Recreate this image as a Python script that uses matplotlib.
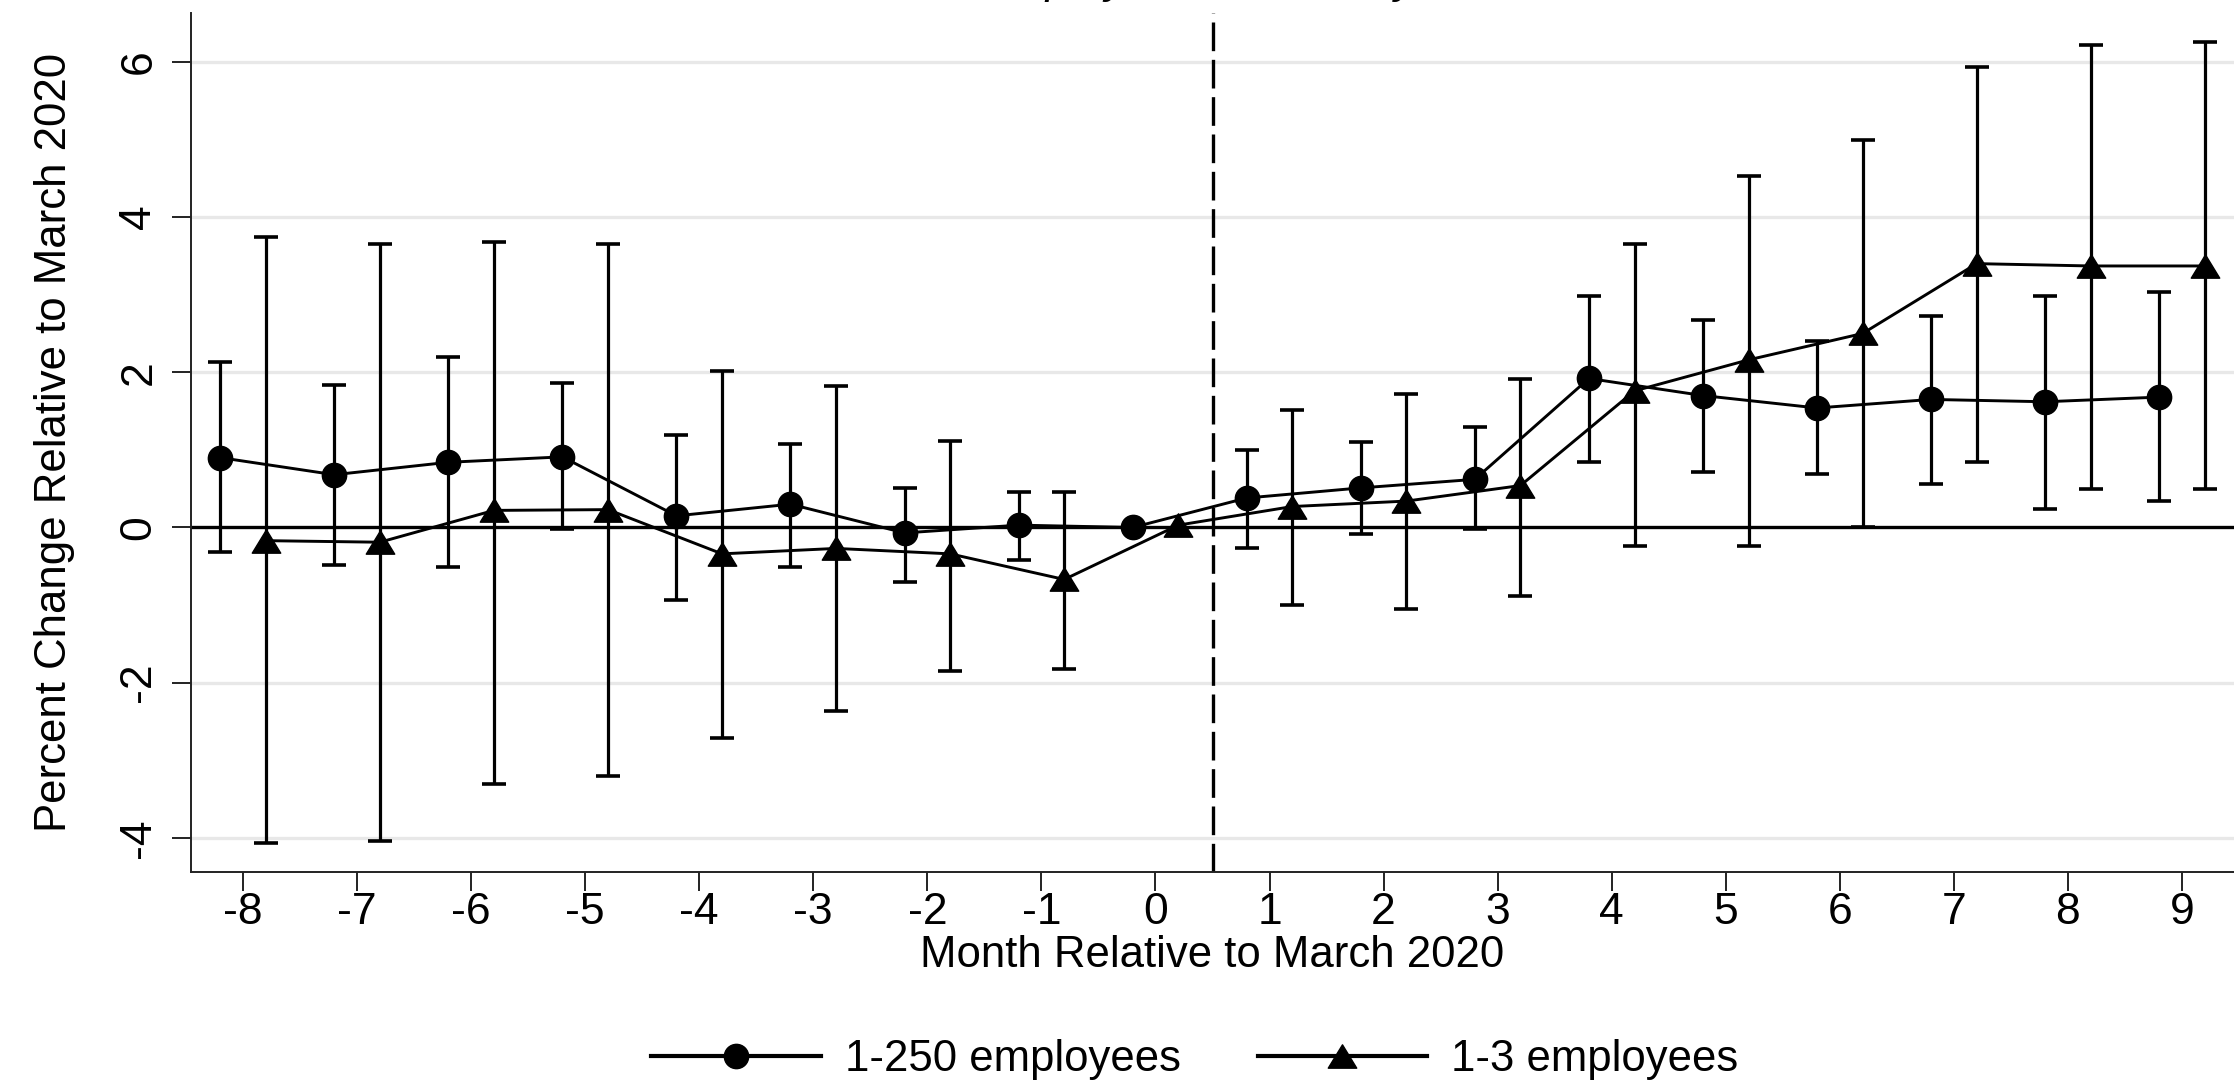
import numpy as np
import matplotlib
matplotlib.use("Agg")
import matplotlib.pyplot as plt
from matplotlib.path import Path

plt.rcParams['font.family'] = ['Liberation Sans', 'DejaVu Sans']
plt.rcParams['axes.unicode_minus'] = False

# months relative to March 2020
months = np.arange(-8, 10)

# 1-250 employees (circles)
est_250 = [0.90, 0.68, 0.84, 0.91, 0.15, 0.30, -0.07, 0.03, 0.00, 0.38, 0.51, 0.62,
           1.92, 1.70, 1.54, 1.65, 1.62, 1.68]
lo_250 = [-0.32, -0.48, -0.51, -0.02, -0.94, -0.51, -0.70, -0.42, np.nan, -0.26, -0.08, -0.02,
          0.84, 0.71, 0.69, 0.56, 0.24, 0.34]
hi_250 = [2.13, 1.83, 2.20, 1.86, 1.19, 1.08, 0.51, 0.46, np.nan, 1.00, 1.10, 1.29,
          2.98, 2.67, 2.40, 2.72, 2.98, 3.03]

# 1-3 employees (triangles)
est_3 = [-0.17, -0.19, 0.22, 0.23, -0.34, -0.27, -0.34, -0.67, 0.03, 0.27, 0.34, 0.54,
         1.76, 2.16, 2.50, 3.40, 3.37, 3.37]
lo_3 = [-4.06, -4.04, -3.30, -3.20, -2.71, -2.36, -1.85, -1.82, np.nan, -1.00, -1.05, -0.88,
        -0.24, -0.24, 0.01, 0.84, 0.49, 0.49]
hi_3 = [3.74, 3.65, 3.68, 3.65, 2.01, 1.82, 1.11, 0.46, np.nan, 1.52, 1.72, 1.91,
        3.65, 4.53, 4.99, 5.94, 6.22, 6.25]

labels = ['1-250 employees', '1-3 employees']
yticks = [-4, -2, 0, 2, 4, 6]

W, H = 2234, 1085
fig = plt.figure(figsize=(W / 100, H / 100), dpi=100, facecolor='white')
ax = fig.add_axes([191 / W, 1 - 872 / H, 1 - 191 / W, (872 - 13) / H])

# wider-than-tall triangle like Stata's
tri = Path([(0, 0.82), (-1, -0.82), (1, -0.82), (0, 0.82)],
           [Path.MOVETO, Path.LINETO, Path.LINETO, Path.CLOSEPOLY])

for y in yticks:
    if y != 0:
        ax.axhline(y, color='#e8e8e8', lw=2.4, zorder=0)
ax.axhline(0, color='black', lw=2.4, zorder=1)
ax.axvline(0.5, color='black', lw=2.4, ls=(0, (8.6, 2.6)), zorder=1)

series = [
    (months - 0.2, est_250, lo_250, hi_250, 'o', 17.5),
    (months + 0.2, est_3, lo_3, hi_3, tri, 20.5),
]
handles = []
for x, est, lo, hi, mk, ms in series:
    est = np.array(est)
    yerr = [est - np.array(lo), np.array(hi) - est]
    ax.errorbar(x, est, yerr=yerr, fmt='none', ecolor='black', elinewidth=2.3,
                capsize=8.6, capthick=2.6, zorder=2)
    h, = ax.plot(x, est, color='black', lw=2.1, marker=mk, markersize=ms,
                 markerfacecolor='black', markeredgecolor='black', zorder=3)
    handles.append(h)

ax.set_xlim(-8.456, 9.456)
ax.set_ylim(-4.44, 6.63)
ax.set_xticks(months)
ax.set_yticks(yticks)
ax.tick_params(axis='both', length=13.7, width=1.4, labelsize=32, color='#222222')
ax.tick_params(axis='x', pad=1)
ax.tick_params(axis='y', pad=9)
for lab in ax.get_yticklabels():
    lab.set_rotation(90)
    lab.set_va('center')

for s in ['top', 'right']:
    ax.spines[s].set_visible(False)
for s in ['left', 'bottom']:
    ax.spines[s].set_linewidth(1.4)
    ax.spines[s].set_color('#222222')

ax.set_xlabel('Month Relative to March 2020', fontsize=31.5, labelpad=1)
ax.set_ylabel('Percent Change Relative to March 2020', fontsize=31.5, labelpad=31)

leg = fig.legend(handles, labels, loc='center', bbox_to_anchor=(1195 / W, 1 - 1060 / H),
                 ncol=2, frameon=False, fontsize=31.5, numpoints=1,
                 handlelength=3.87, handletextpad=0.56, columnspacing=1.75)
for h in leg.legend_handles:
    h.set_linewidth(3)

# title is cut off by the top edge of the original image
fig.text(979 / W, 1 + 6.7 / H, 'Employment Share by Firm Size', fontsize=32,
         style='italic', ha='left', va='baseline')

fig.savefig('out.png', dpi=100, facecolor='white')
